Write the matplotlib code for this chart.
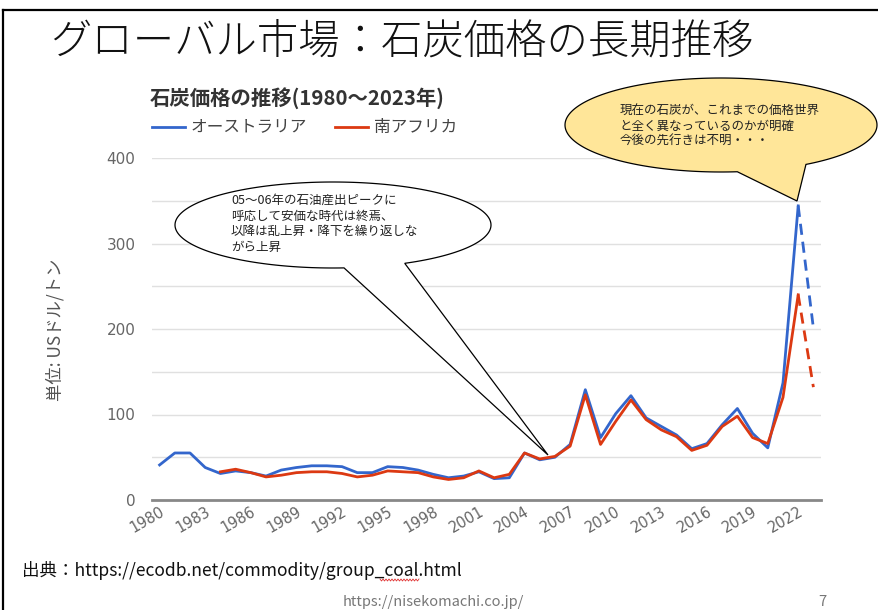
import numpy as np
import matplotlib
matplotlib.use("Agg")
import matplotlib.pyplot as plt
from matplotlib.patches import Polygon

plt.rcParams['font.family'] = ['Noto Sans CJK JP', 'DejaVu Sans']

# Coal prices (USD / ton), 1980-2023
years = list(range(1980, 2024))
australia = [41, 55, 55, 38, 31, 34, 32, 28, 35, 38, 40, 40, 39, 32, 32, 39, 38, 35, 30, 26,
             28, 33, 25, 26, 55, 47, 50, 65, 129, 73, 101, 122, 96, 86, 76, 60, 66, 88, 107, 78,
             61, 137, 344, 201]
south_africa = [None, None, None, None, 33, 36, 32, 27, 29, 32, 33, 33, 31, 27, 29, 34, 33, 32, 27, 24,
                26, 34, 26, 30, 55, 48, 51, 63, 123, 65, 92, 117, 94, 82, 74, 58, 64, 86, 98, 73,
                66, 120, 240, 132]
tick_years = list(range(1980, 2023, 3))

BLUE = '#3366CC'
RED = '#DC3912'

W, H = 879, 610
fig = plt.figure(figsize=(W / 100, H / 100), dpi=100)


def fx(px):
    return px / W


def fy(py):
    return 1 - py / H


ax = fig.add_axes([fx(152), fy(500), fx(821) - fx(152), fy(158) - fy(500)])

x = np.arange(len(years))
au = np.array(australia, dtype=float)
sa = np.array([np.nan if v is None else v for v in south_africa], dtype=float)

# Solid history up to 2022, dashed segment for 2023
ax.plot(x[:-1], au[:-1], color=BLUE, lw=2.0, solid_joinstyle='round', zorder=3)
ax.plot(x[-2:], au[-2:], color=BLUE, lw=2.0, ls=(0, (4, 2.5)), zorder=3)
ax.plot(x[:-1], sa[:-1], color=RED, lw=2.0, solid_joinstyle='round', zorder=4)
ax.plot(x[-2:], sa[-2:], color=RED, lw=2.0, ls=(0, (4, 2.5)), zorder=4)

ax.set_xlim(-0.5, len(years) - 0.5)
ax.set_ylim(0, 400)
ax.set_yticks([0, 100, 200, 300, 400])
ax.set_yticks([50, 150, 250, 350], minor=True)
ax.grid(axis='y', which='both', color='#E0E0E0', lw=1.0)
ax.set_axisbelow(True)
for s in ['top', 'right', 'left']:
    ax.spines[s].set_visible(False)
ax.spines['bottom'].set_color('#888888')
ax.spines['bottom'].set_linewidth(2.0)
ax.tick_params(axis='y', which='both', length=0, pad=12, labelsize=11, labelcolor='#666666')
ax.tick_params(axis='x', length=0, pad=3, labelsize=10.5, labelcolor='#666666')
ax.set_xticks([years.index(t) for t in tick_years])
ax.set_xticklabels([str(t) for t in tick_years], rotation=30, ha='right', rotation_mode='anchor')
for lbl in ax.get_xticklabels():
    lbl.set_fontfamily(['DejaVu Sans'])
for lbl in ax.get_yticklabels():
    lbl.set_fontfamily(['DejaVu Sans'])

fig.text(fx(55), fy(330), '単位: USドル/トン', rotation=90, ha='center', va='center',
         fontsize=12.5, color='#555555')

# Slide title and chart heading
fig.text(fx(50), fy(42), 'グローバル市場：石炭価格の長期推移', fontsize=29.8, fontweight='light',
         ha='left', va='center', color='#111111')
fig.text(fx(150), fy(98), '石炭価格の推移(1980～2023年)', fontsize=14.7, fontweight='bold',
         ha='left', va='center', color='#333333')

# Legend
fig.add_artist(plt.Line2D([fx(152), fx(185)], [fy(127), fy(127)], color=BLUE, lw=2.0))
fig.text(fx(191), fy(127), 'オーストラリア', fontsize=12, ha='left', va='center', color='#444444')
fig.add_artist(plt.Line2D([fx(335), fx(368)], [fy(127), fy(127)], color=RED, lw=2.0))
fig.text(fx(374), fy(127), '南アフリカ', fontsize=12, ha='left', va='center', color='#444444')


def callout(cx, cy, a, b, t1, t2, tip, face):
    """Ellipse with a wedge-shaped tail; coordinates in screen pixels (y down)."""
    th = np.radians(np.linspace(t2, 360 + t1, 200))
    px = cx + a * np.cos(th)
    py = cy - b * np.sin(th)
    pts = np.column_stack([px, py])
    pts = np.vstack([pts, [tip]])
    fpts = np.column_stack([fx(pts[:, 0]), fy(pts[:, 1])])
    poly = Polygon(fpts, closed=True, transform=fig.transFigure, facecolor=face,
                   edgecolor='black', lw=0.9, zorder=10)
    fig.add_artist(poly)


callout(333, 225, 158, 43, -86, -63, (548, 455), 'white')
callout(721, 125, 156, 47, -84, -57, (797, 201), '#FFE699')

fig.text(fx(231), fy(194),
         '05～06年の石油産出ピークに\n呼応して安価な時代は終焉、\n以降は乱上昇・降下を繰り返しな\nがら上昇',
         fontsize=9, ha='left', va='top', color='#222222', linespacing=1.25, zorder=11)
fig.text(fx(620), fy(105),
         '現在の石炭が、これまでの価格世界\nと全く異なっているのかが明確\n今後の先行きは不明・・・',
         fontsize=9, ha='left', va='top', color='#222222', linespacing=1.2, zorder=11)

# Source and footer
fig.text(fx(22), fy(570), '出典：https://ecodb.net/commodity/group_coal.html', fontsize=12.6,
         ha='left', va='center', color='#111111')
wx = np.linspace(380, 419, 27)
wy = 580 + 1.0 * np.where(np.arange(27) % 2 == 0, -1, 1)
fig.add_artist(plt.Line2D(fx(wx), fy(wy), color='#E03030', lw=0.6))
fig.text(fx(343), fy(602), 'https://nisekomachi.co.jp/', fontsize=10.5, ha='left', va='center',
         color='#777777')
fig.text(fx(822), fy(602), '7', fontsize=10.5, ha='center', va='center', color='#777777')

# Slide frame
fig.add_artist(plt.Line2D([fx(3), fx(879)], [fy(10), fy(10)], color='black', lw=1.6))
fig.add_artist(plt.Line2D([fx(3), fx(3)], [fy(10), fy(610)], color='black', lw=1.6))

fig.savefig('out.png', dpi=100)
